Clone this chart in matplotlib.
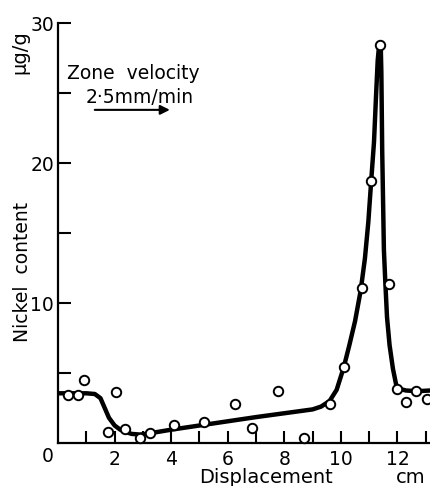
import numpy as np
import matplotlib
matplotlib.use('Agg')
import matplotlib.pyplot as plt

plt.rcParams['font.family'] = ['DejaVu Sans']

# measured points (displacement in cm, nickel content in ug/g)
x_pts = [0.36, 0.69, 0.93, 1.75, 2.05, 2.37, 2.90, 3.25, 4.11, 5.17, 6.27, 6.87,
         7.76, 8.69, 9.61, 10.12, 10.75, 11.05, 11.38, 11.71, 11.97, 12.30, 12.67, 13.03]
y_pts = [3.43, 3.43, 4.50, 0.81, 3.66, 1.00, 0.33, 0.74, 1.29, 1.52, 2.76, 1.05,
         3.74, 0.33, 2.76, 5.45, 11.05, 18.70, 28.40, 11.36, 3.83, 2.95, 3.74, 3.14]

# hand drawn curve
x_fit = [0.0, 0.5, 1.0, 1.3, 1.5, 1.65, 1.8, 2.0, 2.2, 2.4, 2.6, 2.9, 3.2, 4.0, 5.0,
         7.0, 9.0, 9.3, 9.6, 9.85, 10.1, 10.3, 10.5, 10.7, 10.85, 10.97, 11.07, 11.17,
         11.24, 11.30, 11.35, 11.38, 11.41, 11.43, 11.44, 11.46, 11.49, 11.52,
         11.57, 11.63, 11.72, 11.84, 11.95, 12.02, 12.3, 12.7, 13.15]
y_fit = [3.55, 3.55, 3.55, 3.5, 3.2, 2.5, 1.8, 1.25, 0.95, 0.78, 0.65, 0.6, 0.68, 0.95, 1.25,
         1.85, 2.4, 2.6, 3.0, 3.8, 5.4, 7.0, 8.7, 10.9, 13.2, 15.8, 18.7, 21.5,
         24.7, 27.3, 28.4, 28.6, 28.3, 26.5, 24.7, 20.9, 17.4, 13.8,
         11.5, 9.0, 7.0, 5.3, 4.2, 3.9, 3.75, 3.7, 3.75]

x_ticks = [2, 4, 6, 8, 10, 12]
y_ticks = [10, 20, 30]

fig = plt.figure(figsize=(4.3, 4.86), dpi=100)
ax = fig.add_axes([0.135, 0.0885, 0.865, 0.864])

ax.plot(x_fit, y_fit, color='black', lw=3.2, solid_joinstyle='round', solid_capstyle='round')
ax.plot(x_pts, y_pts, 'o', ms=6.8, mfc='white', mec='black', mew=1.4, clip_on=False, zorder=3)

ax.set_xlim(0, 13.15)
ax.set_ylim(0, 30)
for s in ['top', 'right']:
    ax.spines[s].set_visible(False)
for s in ['left', 'bottom']:
    ax.spines[s].set_linewidth(1.6)

ax.set_xticks(x_ticks)
ax.set_xticks(np.arange(1, 14, 2), minor=True)
ax.set_yticks(y_ticks)
ax.set_yticks([5, 15, 25], minor=True)
ax.tick_params(which='both', direction='in', length=9, width=1.5, labelsize=13.5)
ax.tick_params(axis='x', pad=5)
ax.tick_params(axis='y', pad=3)

ax.text(-0.027, -0.033, '0', transform=ax.transAxes, ha='center', va='center', fontsize=13.5)
ax.text(0.559, -0.083, 'Displacement', transform=ax.transAxes, ha='center', va='center', fontsize=14)
ax.text(0.949, -0.083, 'cm', transform=ax.transAxes, ha='center', va='center', fontsize=14)
ax.text(-0.095, 0.407, 'Nickel  content', transform=ax.transAxes, ha='center', va='center',
        rotation=90, fontsize=13.5)
ax.text(-0.102, 0.931, 'µg/g', transform=ax.transAxes, ha='center', va='center',
        rotation=90, fontsize=14)

ax.text(0.32, 26.4, 'Zone  velocity', ha='left', va='center', fontsize=13.5)
ax.text(2.9, 24.7, '2·5mm/min', ha='center', va='center', fontsize=13.5)
ax.annotate('', xy=(4.05, 23.8), xytext=(1.2, 23.8),
            arrowprops=dict(arrowstyle='-|>', lw=1.5, color='black', mutation_scale=14))

fig.savefig('out.png', dpi=100)
